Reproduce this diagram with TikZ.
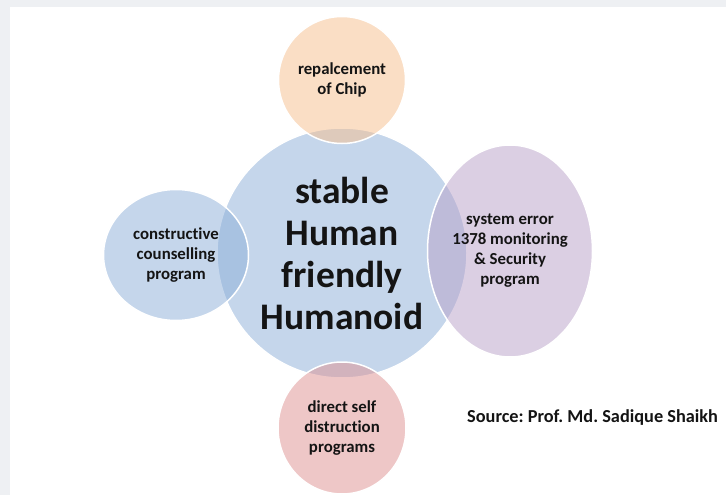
\documentclass[tikz,border=0pt]{standalone}
\usepackage{fontspec}
\setmainfont{Carlito}[Ligatures=NoCommon]
\usetikzlibrary{shapes.geometric}

\definecolor{pagegray}{RGB}{238,240,243}
\definecolor{inkblack}{RGB}{20,20,20}
\definecolor{hubblue}{RGB}{140,175,217}
\definecolor{chippeach}{RGB}{247,191,141}
\definecolor{securitylilac}{RGB}{185,161,201}
\definecolor{selfpink}{RGB}{223,145,145}

\tikzset{
  blob/.style={ellipse, draw=white, line width=1.5pt, fill opacity=0.5,
    text opacity=1, inner sep=0pt, align=center, text=inkblack,
    font=\bfseries\fontsize{16.8}{20}\selectfont},
  hubtext/.style={font=\bfseries\fontsize{37.5}{42}\selectfont},
}

\begin{document}
\frenchspacing
\begin{tikzpicture}[x=1pt,y=-1pt]
  % page and frame
  \fill[pagegray] (0,0) rectangle (726,495);
  \fill[white] (10,7) rectangle (726,495);
  \useasboundingbox (0,0) rectangle (726,495);

  % central circle
  \node[blob, hubtext, fill=hubblue, minimum width=250pt, minimum height=250pt] (hub) at (342,253)
    {stable\\Human\\friendly\\Humanoid};

  % satellites
  \node[blob, fill=chippeach, minimum width=127pt, minimum height=127pt] (chip) at (342,80)
    {repalcement\\of Chip};
  \node[blob, fill=hubblue, minimum width=145pt, minimum height=131pt] (counsel) at (176,255)
    {constructive\\counselling\\program};
  \node[blob, fill=securitylilac, minimum width=165pt, minimum height=212pt] (security) at (510,251)
    {system error\\1378 monitoring\\\& Security\\program};
  \node[blob, fill=selfpink, minimum width=128pt, minimum height=132pt] (destruct) at (342,428)
    {direct self\\distruction\\programs};

  \node[anchor=west, inner sep=0pt, text=inkblack, font=\bfseries\fontsize{18.3}{20}\selectfont] (source) at (467,418)
    {Source: Prof. Md. Sadique Shaikh};
\end{tikzpicture}
\end{document}
